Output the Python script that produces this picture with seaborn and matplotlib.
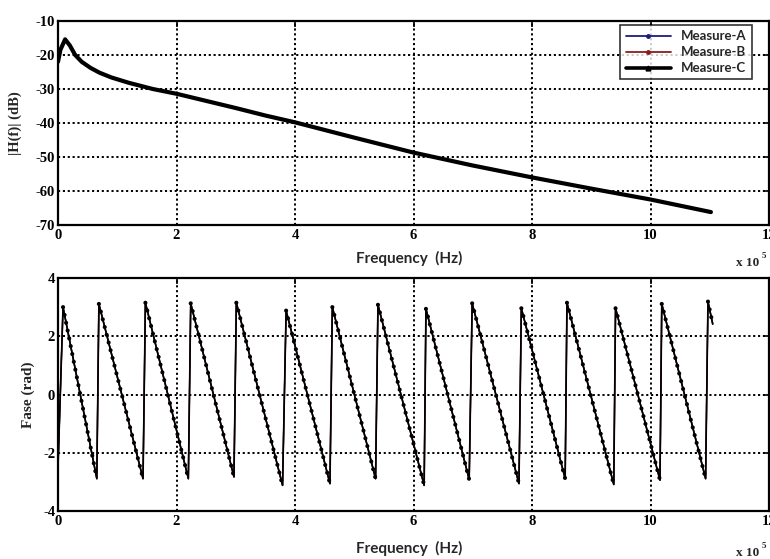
import numpy as np
import pandas as pd
import seaborn as sns
import matplotlib.pyplot as plt
from matplotlib.lines import Line2D

# ---- data (frequency in units of 1e5 Hz) ----
series_names = ["Measure-A", "Measure-B", "Measure-C"]
series_colors = ["#1c1c7a", "#8a1c1c", "#000000"]

freq_mag = [0.0, 0.04, 0.12, 0.2, 0.29, 0.4, 0.55, 0.7, 0.9, 1.2, 1.6, 2.0,
            2.5, 3.0, 3.5, 4.0, 5.0, 6.0, 7.0, 8.0, 9.0, 10.0, 11.02]
mag_db = [-22.0, -18.5, -15.4, -17.2, -20.0, -22.0, -23.8, -25.2, -26.6, -28.2,
          -30.0, -31.4, -33.5, -35.6, -37.8, -39.8, -44.3, -48.7, -52.5, -56.0,
          -59.3, -62.5, -66.2]

# phase wraps: lowest point before each jump, then the peak right after it
trough_f = [0.0, 0.655, 1.435, 2.20, 2.97, 3.79, 4.59, 5.36, 6.18, 6.94,
            7.78, 8.56, 9.38, 10.16, 10.93]
trough_rad = [-2.50, -2.89, -2.89, -2.89, -2.83, -3.12, -3.06, -2.89, -3.12,
              -2.92, -3.06, -2.89, -3.09, -2.94, -2.89]
peak_f = [0.085, 0.69, 1.475, 2.24, 3.01, 3.85, 4.63, 5.40, 6.21, 6.99,
          7.82, 8.59, 9.41, 10.19, 10.97]
peak_rad = [3.00, 3.11, 3.15, 3.13, 3.15, 2.88, 3.00, 3.08, 2.94, 3.13,
            2.96, 3.15, 2.96, 3.11, 3.19]
end_f, end_rad = 11.05, 2.42

x_ticks = [0, 2, 4, 6, 8, 10, 12]
mag_ticks = [-70, -60, -50, -40, -30, -20, -10]
phase_ticks = [-4, -2, 0, 2, 4]

# ---- build long tables ----
phase_f, phase_v = [], []
for tf, tv, pf, pv in zip(trough_f, trough_rad, peak_f, peak_rad):
    phase_f += [tf, pf]
    phase_v += [tv, pv]
phase_f.append(end_f)
phase_v.append(end_rad)

mag_df = pd.concat([pd.DataFrame({"f": freq_mag, "v": mag_db, "series": s})
                    for s in series_names], ignore_index=True)
ph_df = pd.concat([pd.DataFrame({"f": phase_f, "v": phase_v, "series": s})
                   for s in series_names], ignore_index=True)

# ---- style ----
sns.set_theme(style="white")
plt.rcParams["font.family"] = ["Liberation Serif", "DejaVu Serif"]
plt.rcParams["font.weight"] = "bold"
plt.rcParams["xtick.direction"] = "in"
plt.rcParams["ytick.direction"] = "in"

W, H = 770, 559
fig = plt.figure(figsize=(W / 100, H / 100), dpi=100)
fig.patch.set_facecolor("white")

def frame(px_left, px_top, px_right, px_bottom):
    return [px_left / W, 1 - px_bottom / H, (px_right - px_left) / W,
            (px_bottom - px_top) / H]

ax1 = fig.add_axes(frame(58, 21, 769, 225))
ax2 = fig.add_axes(frame(58, 278, 769, 511))

palette = dict(zip(series_names, series_colors))
sns.lineplot(data=mag_df, x="f", y="v", hue="series", size="series",
             hue_order=series_names, palette=palette,
             sizes={"Measure-A": 1.5, "Measure-B": 1.5, "Measure-C": 3.0},
             size_order=series_names, sort=False, estimator=None,
             legend=False, ax=ax1)
sns.lineplot(data=ph_df, x="f", y="v", hue="series", size="series",
             hue_order=series_names, palette=palette,
             sizes={"Measure-A": 1.0, "Measure-B": 1.0, "Measure-C": 1.2},
             size_order=series_names, sort=False, estimator=None,
             legend=False, ax=ax2)

# sample dots along each falling stretch of the phase
fall_f, fall_v = [], []
stops = list(zip(trough_f[1:], trough_rad[1:])) + [(end_f, end_rad)]
for (pf, pv), (sf, sv) in zip(zip(peak_f, peak_rad), stops):
    fall_f += [pf, sf, np.nan]
    fall_v += [pv, sv, np.nan]
ax2.plot(fall_f, fall_v, color="black", lw=3.0, ls=(0, (0.01, 1.9)),
         dash_capstyle="round", zorder=4)

for ax, yt in ((ax1, mag_ticks), (ax2, phase_ticks)):
    ax.set_xlim(0, 12)
    ax.set_ylim(yt[0], yt[-1])
    ax.set_xticks(x_ticks)
    ax.set_yticks(yt)
    ax.set_xticklabels([str(t) for t in x_ticks], fontsize=10.5, fontweight="bold")
    ax.set_yticklabels([str(t) for t in yt], fontsize=10.5, fontweight="bold")
    ax.tick_params(axis="both", length=4, width=1.2, colors="black",
                   top=True, right=True, pad=3)
    ax.tick_params(axis="y", pad=2)
    ax.grid(True, color="black", lw=1.4, ls=(0, (1.1, 1.4)))
    for sp in ax.spines.values():
        sp.set_visible(True)
        sp.set_color("black")
        sp.set_linewidth(1.6)
    ax.set_xlabel("")
    ax.set_ylabel("")
    ax.set_facecolor("white")

sans = ["Lato", "DejaVu Sans"]
ax1.set_ylabel("|H(f)| (dB)", fontsize=10.5, fontweight="bold", labelpad=10)
ax2.set_ylabel("Fase (rad)", fontsize=11, fontweight="bold", labelpad=6)
for yy in (258, 548):
    fig.text(409 / W, 1 - yy / H, "Frequency  (Hz)", family=sans,
             fontsize=11, fontweight="bold", ha="center", va="center")
    fig.text(736 / W, 1 - (yy + 5) / H, "x 10", fontsize=9.5,
             fontweight="bold", ha="left", va="center")
    fig.text(762 / W, 1 - (yy - 2) / H, "5", fontsize=6.5,
             fontweight="bold", ha="left", va="center")

handles = [
    Line2D([], [], color=series_colors[0], lw=1.3, marker="o", ms=2.5),
    Line2D([], [], color=series_colors[1], lw=1.3, marker="o", ms=2.5),
    Line2D([], [], color=series_colors[2], lw=2.6, marker="^", ms=3.5),
]
leg = ax1.legend(handles, series_names, loc="upper right",
                 bbox_to_anchor=((752 - 58) / 711, 1 - 4 / 204),
                 prop={"family": sans, "weight": "bold", "size": 9.5},
                 frameon=True, fancybox=False, handlelength=3.4,
                 handletextpad=0.8, borderpad=0.4, labelspacing=0.3,
                 borderaxespad=0)
leg.get_frame().set_edgecolor("black")
leg.get_frame().set_linewidth(1.2)

fig.savefig("out.png", dpi=100, facecolor="white")
